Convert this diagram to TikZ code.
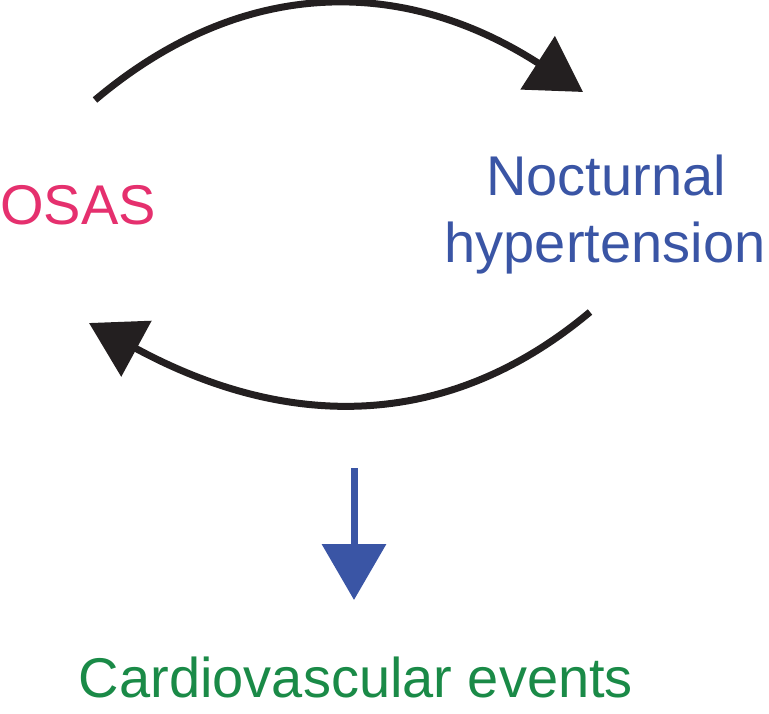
\documentclass[tikz,border=0pt]{standalone}
\usepackage{fontspec}
\setmainfont{Liberation Sans}
\usetikzlibrary{arrows.meta}
\definecolor{osaspink}{HTML}{E5306E}
\definecolor{hypblue}{HTML}{3A55A5}
\definecolor{cvgreen}{HTML}{1A8A47}
\definecolor{arcblack}{HTML}{231F20}
\tikzset{
  lbl/.style={inner sep=0pt, font=\fontsize{56}{67}\selectfont},
  loop/.style={draw=arcblack, line width=7pt, -{Triangle[length=54pt,width=62pt]}, arcblack},
  downarrow/.style={draw=hypblue, line width=7pt, -{Triangle[length=56pt,width=63pt]}, hypblue},
}
\begin{document}
\begin{tikzpicture}[x=1pt,y=-1pt]
\useasboundingbox (0,0) rectangle (769,713);
\node[lbl, text=osaspink, anchor=base west] (osas) at (0,224) {OSAS};
\node[lbl, text=hypblue, anchor=base] (noct) at (606,195) {Nocturnal};
\node[lbl, text=hypblue, anchor=base] (hyp) at (605,262) {hypertension};
\node[lbl, text=cvgreen, anchor=base] (cv) at (356,697) {Cardiovascular events};
\coordinate (t0) at (95,100);
\coordinate (t1) at (583,92);
\coordinate (b0) at (590,312);
\coordinate (b1) at (89,323);
\coordinate (d0) at (354,468);
\coordinate (d1) at (354,600);
\draw[loop] (t0) .. controls (242,-24) and (403,-24) .. (t1);
\draw[loop] (b0) .. controls (448,431) and (288,431) .. (b1);
\draw[downarrow] (d0) -- (d1);
\end{tikzpicture}
\end{document}
